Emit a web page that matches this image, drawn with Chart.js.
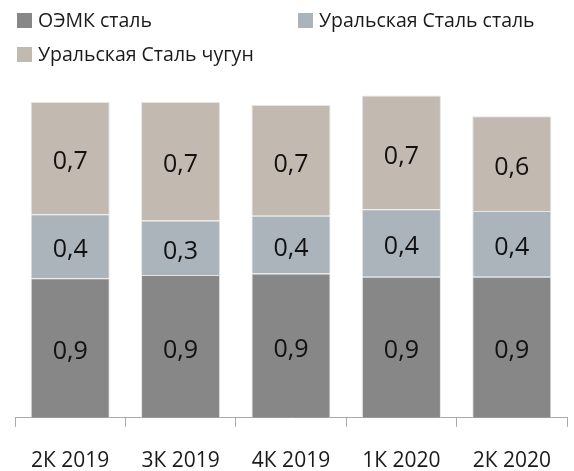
<!DOCTYPE html>
<html>
<head>
<meta charset="utf-8">
<script src="https://cdn.jsdelivr.net/npm/chart.js@4.4.1/dist/chart.umd.min.js"></script>
<style>
    html, body { margin: 0; padding: 0; background: #fff; }
    #wrap { position: relative; width: 574px; height: 471px; }
    #chart { position: absolute; left: 0; top: 0; }
    .leg { position: absolute; font-family: "Open Sans", sans-serif; font-size: 19.5px;
           color: #1a1a1a; white-space: nowrap; line-height: 24px; }
    .leg span.box { position: absolute; width: 15px; height: 15px; left: -21px; top: 5px; }
</style>
</head>
<body>
<div id="wrap">
    <canvas id="chart" width="574" height="471"></canvas>
</div>
<script>
// ----- data -----
const quarters = ["2К 2019", "3К 2019", "4К 2019", "1К 2020", "2К 2020"];
const seriesNames = ["ОЭМК сталь", "Уральская Сталь сталь", "Уральская Сталь чугун"];
const oemkSteel = [0.87, 0.89, 0.90, 0.88, 0.88];
const uralSteel = [0.40, 0.34, 0.36, 0.42, 0.41];
const uralPigIron = [0.70, 0.74, 0.69, 0.71, 0.59];
const seriesColors = ["#878788", "#abb3bb", "#c2b9b1"];

// legend (HTML, placed like the original: two columns, two rows)
const legendSpots = [[38, 8], [319, 8], [38, 42]];
const wrap = document.getElementById("wrap");
seriesNames.forEach(function (name, i) {
    const div = document.createElement("div");
    div.className = "leg";
    div.style.left = legendSpots[i][0] + "px";
    div.style.top = legendSpots[i][1] + "px";
    div.innerHTML = '<span class="box" style="background:' + seriesColors[i] + '"></span>' + name;
    wrap.appendChild(div);
});

// value labels in the middle of every segment, "0,9" style
const segmentLabels = {
    id: "segmentLabels",
    afterDatasetsDraw(chart) {
        const ctx = chart.ctx;
        ctx.save();
        ctx.font = '25px "Open Sans"';
        ctx.fillStyle = "#111";
        ctx.textAlign = "center";
        ctx.textBaseline = "middle";
        chart.data.datasets.forEach(function (ds, di) {
            chart.getDatasetMeta(di).data.forEach(function (bar, i) {
                const p = bar.getCenterPoint();
                const txt = ds.data[i].toFixed(1).replace(".", ",");
                ctx.fillText(txt, p.x, p.y + 4);
            });
        });
        ctx.restore();
    }
};

new Chart(document.getElementById("chart"), {
    type: "bar",
    data: {
        labels: quarters,
        datasets: [oemkSteel, uralSteel, uralPigIron].map(function (vals, i) {
            return {
                label: seriesNames[i],
                data: vals,
                backgroundColor: seriesColors[i],
                borderColor: "#e4e4e4",
                borderWidth: 1,
                borderSkipped: "bottom",
                categoryPercentage: 1,
                barPercentage: 0.716
            };
        })
    },
    options: {
        responsive: false,
        animation: false,
        layout: { padding: { left: 15, right: 7, top: 65, bottom: -25 } },
        plugins: { legend: { display: false }, tooltip: { enabled: false } },
        scales: {
            x: {
                stacked: true,
                border: { display: true, color: "#a9a9a9", width: 1 },
                grid: { display: true, offset: true, drawOnChartArea: false,
                        drawTicks: true, tickLength: 9, color: "#a9a9a9" },
                ticks: { color: "#1a1a1a", padding: 22,
                         font: { family: "Open Sans", size: 21 } }
            },
            y: {
                stacked: true, display: false, min: 0, max: 2.2
            }
        }
    },
    plugins: [segmentLabels]
});
</script>
</body>
</html>
